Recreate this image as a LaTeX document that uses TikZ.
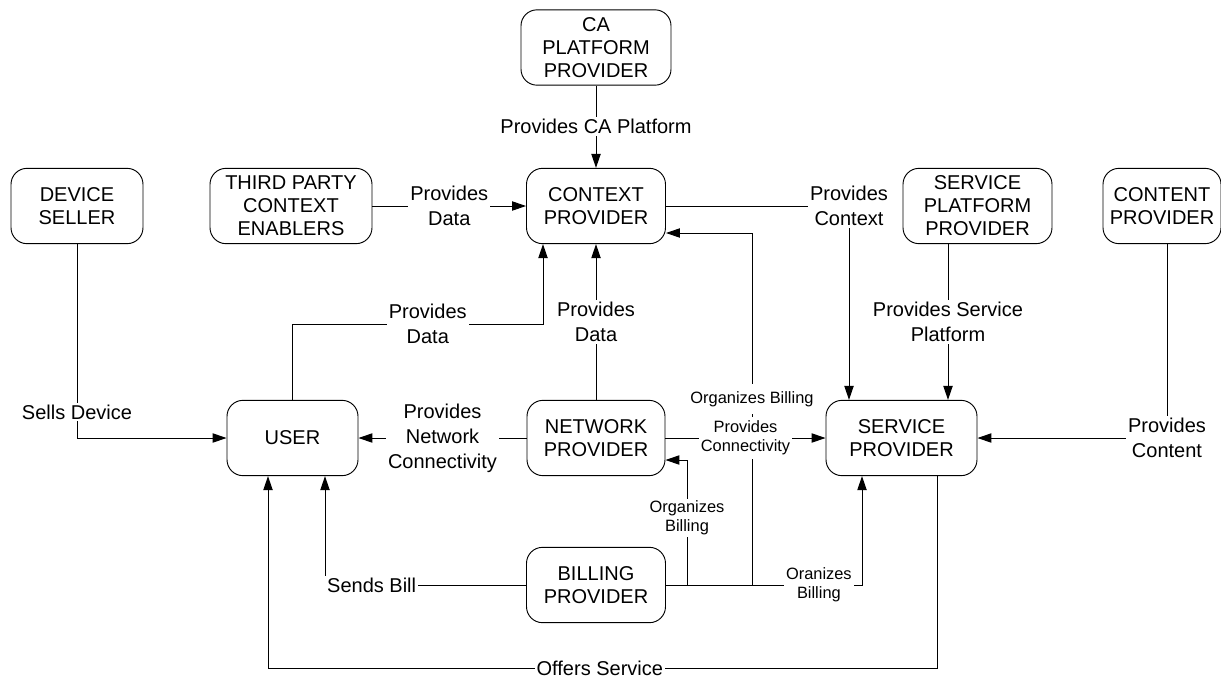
\documentclass[tikz,border=0pt]{standalone}
\usepackage{fontspec}
\setmainfont{Liberation Sans}
\usetikzlibrary{arrows.meta}
\begin{document}
\begin{tikzpicture}[x=0.75pt,y=-0.75pt,
  box/.style={draw, line width=0.7pt, rounded corners=12pt, align=center,
    font=\fontsize{15}{17.3}\selectfont, inner sep=1pt, minimum height=56.5pt},
  lbl/.style={fill=white, align=center, font=\fontsize{15}{18.75}\selectfont, inner sep=1.5pt},
  slbl/.style={fill=white, align=center, font=\fontsize{12.3}{14.3}\selectfont, inner sep=1.5pt},
  link/.style={line width=0.75pt},
  arr/.style={link, -{Triangle[length=10.5pt,width=7pt]}}]
\useasboundingbox (0,0) rectangle (1221,679);

% actors
\node[box, minimum width=112.5pt] (ca)   at (596,47.5)  {CA\\PLATFORM\\PROVIDER};
\node[box, minimum width=104.25pt] (ctx) at (596,206)   {CONTEXT\\PROVIDER};
\node[box, minimum width=121.5pt] (tpce) at (291,206)   {THIRD PARTY\\CONTEXT\\ENABLERS};
\node[box, minimum width=99pt]    (ds)   at (77,206)    {DEVICE\\SELLER};
\node[box, minimum width=111.75pt] (spp) at (977.5,206) {SERVICE\\PLATFORM\\PROVIDER};
\node[box, minimum width=88.5pt]  (cp)   at (1162,206)  {CONTENT\\PROVIDER};
\node[box, minimum width=98.25pt] (user) at (292.5,438) {USER};
\node[box, minimum width=103.5pt] (np)   at (596,438)   {NETWORK\\PROVIDER};
\node[box, minimum width=113.25pt] (sp)  at (901.5,438) {SERVICE\\PROVIDER};
\node[box, minimum width=104.25pt] (bp)  at (596,585)   {BILLING\\PROVIDER};

% routing points
\coordinate (ud)  at (543,324);
\coordinate (cx)  at (849,0);
\coordinate (px)  at (948,0);
\coordinate (tx)  at (1167,0);
\coordinate (ux)  at (325,0);
\coordinate (ob)  at (268,668);
\coordinate (ox)  at (937,0);
\coordinate (bx)  at (862,0);
\coordinate (b1)  at (687,585);
\coordinate (b1t) at (687,460);
\coordinate (b2)  at (752,585);
\coordinate (b2t) at (752,233);

% connectors
\draw[arr] (ca.south) -- node[lbl]{Provides CA Platform} (ca.south |- ctx.north);
\draw[arr] (tpce.east) -- node[lbl]{Provides\\Data} (tpce.east -| ctx.west);
\draw[arr] (ds.south) |- node[lbl,pos=0.433]{Sells Device} (user.west);
\draw[arr] (user.north) |- node[lbl,pos=0.77]{Provides\\Data} (ud) -- (ud |- ctx.south);
\draw[arr] (np.north) -- node[lbl]{Provides\\Data} (ctx.south);
\draw[arr] (np.west) -- node[lbl]{Provides\\Network\\Connectivity} (user.east);
\draw[arr] (ctx.east) -| node[lbl,pos=0.5]{Provides\\Context} (cx |- sp.north);
\draw[arr] (px |- spp.south) -- node[lbl]{Provides Service\\Platform} (px |- sp.north);
\draw[arr] (tx |- cp.south) |- node[lbl,pos=0.5]{Provides\\Content} (sp.east);
\draw[arr] (bp.west) -| node[lbl,pos=0.384]{Sends Bill} (ux |- user.south);
\draw[arr] (ox |- sp.south) |- node[lbl,pos=0.752]{Offers Service} (ob) -- (ob |- user.south);
\draw[arr] (bp.east) -| node[slbl,pos=0.39]{Oranizes\\Billing} (bx |- sp.south);
\draw[arr] (b1) |- node[slbl,pos=0.268]{Organizes\\Billing} (np.east |- b1t);
\draw[arr] (b2) |- node[slbl,pos=0.264,inner ysep=5.5pt]{Organizes Billing} (ctx.east |- b2t);
\draw[arr] (np.east) -- node[slbl,inner ysep=3pt]{Provides\\Connectivity} (sp.west);
\end{tikzpicture}
\end{document}
